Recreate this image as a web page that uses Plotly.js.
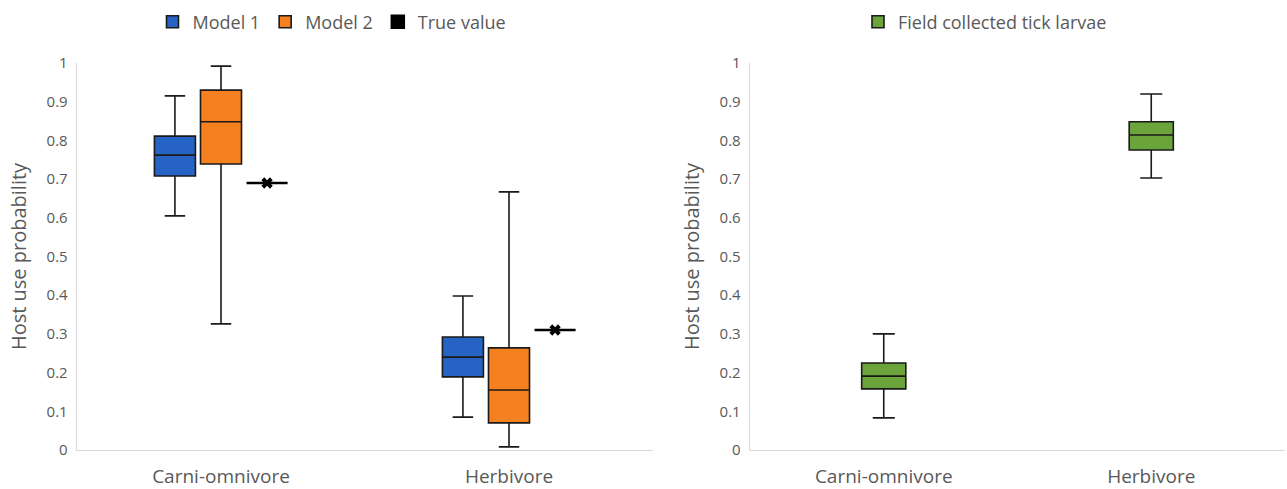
<!DOCTYPE html>
<html>
<head>
<meta charset="utf-8">
<script src="https://cdn.plot.ly/plotly-3.0.1.min.js"></script>
<style>html,body{margin:0;padding:0;background:#fff}#chart{width:1287px;height:489px}</style>
</head>
<body>
<div id="chart"></div>
<script>
// Categories
const categories = ['Carni-omnivore', 'Herbivore'];

// Model 1 (blue)
const m1Upper  = [0.915, 0.398];
const m1Q3     = [0.811, 0.292];
const m1Median = [0.762, 0.240];
const m1Q1     = [0.708, 0.189];
const m1Lower  = [0.605, 0.085];

// Model 2 (orange)
const m2Upper  = [0.992, 0.667];
const m2Q3     = [0.930, 0.264];
const m2Median = [0.848, 0.155];
const m2Q1     = [0.739, 0.070];
const m2Lower  = [0.326, 0.008];

// True value
const trueValue = [0.690, 0.310];

// Field collected tick larvae (green)
const fUpper  = [0.300, 0.920];
const fQ3     = [0.225, 0.848];
const fMedian = [0.191, 0.814];
const fQ1     = [0.158, 0.775];
const fLower  = [0.083, 0.703];

const yTicks = [0, 0.1, 0.2, 0.3, 0.4, 0.5, 0.6, 0.7, 0.8, 0.9, 1];

const fontFam = '"Open Sans", "Segoe UI", sans-serif';
const gray = '#595959';

function boxTrace(name, color, q1, med, q3, lo, hi, xa, ya, legend, ag, og) {
  return {
    type: 'box', name: name, x: categories,
    q1: q1, median: med, q3: q3, lowerfence: lo, upperfence: hi,
    fillcolor: color, line: {color: '#1a1a1a', width: 1.6},
    whiskerwidth: 0.5, boxpoints: false,
    alignmentgroup: ag, offsetgroup: og,
    xaxis: xa, yaxis: ya, legend: legend, hoverinfo: 'y'
  };
}

const green = boxTrace('Field collected tick larvae', '#6BA43A', fQ1, fMedian, fQ3, fLower, fUpper, 'x2', 'y2', 'legend2', 'R', 'd');
green.width = 0.165;

const traces = [
  boxTrace('Model 1', '#2563C4', m1Q1, m1Median, m1Q3, m1Lower, m1Upper, 'x', 'y', 'legend', 'L', 'a'),
  boxTrace('Model 2', '#F5801F', m2Q1, m2Median, m2Q3, m2Lower, m2Upper, 'x', 'y', 'legend', 'L', 'b'),
  {
    type: 'box', name: 'True value', x: categories, y: trueValue,
    fillcolor: '#000000', line: {color: '#000000', width: 2.5},
    whiskerwidth: 0.5, boxpoints: 'all', pointpos: 0, jitter: 0,
    marker: {symbol: 'x', size: 10, color: '#000000'},
    alignmentgroup: 'L', offsetgroup: 'c',
    xaxis: 'x', yaxis: 'y', legend: 'legend', hoverinfo: 'y'
  },
  green
];

const yDomain = [39/489, 426/489];
function yAxis(anchor) {
  return {
    domain: yDomain, range: [0, 1], anchor: anchor,
    tickvals: yTicks, ticktext: yTicks.map(String),
    showgrid: false, zeroline: false,
    showline: true, linecolor: '#d9d9d9', linewidth: 1.3,
    ticks: '', ticklen: 0, ticklabelstandoff: 5,
    tickfont: {family: fontFam, size: 15, color: gray},
    title: {text: 'Host use probability', font: {family: fontFam, size: 20, color: gray}, standoff: 14},
    fixedrange: true
  };
}
function xAxis(domain, anchor) {
  return {
    domain: domain, anchor: anchor, type: 'category',
    range: [-0.5, categories.length - 0.5],
    showgrid: false, zeroline: false,
    showline: true, linecolor: '#d9d9d9', linewidth: 1.3,
    ticks: '', ticklabelstandoff: 9,
    tickfont: {family: fontFam, size: 19, color: gray},
    fixedrange: true
  };
}

const layout = {
  width: 1287, height: 489,
  margin: {l: 0, r: 0, t: 0, b: 0},
  paper_bgcolor: '#ffffff', plot_bgcolor: '#ffffff',
  boxmode: 'group', boxgap: 0.52, boxgroupgap: 0.11,
  xaxis: xAxis([77/1287, 653/1287], 'y'),
  yaxis: yAxis('x'),
  xaxis2: xAxis([750/1287, 1285/1287], 'y2'),
  yaxis2: yAxis('x2'),
  legend: {
    orientation: 'h', x: 332/1287, xanchor: 'center', y: 1 - 22/489, yanchor: 'middle',
    font: {family: fontFam, size: 18, color: gray}, itemwidth: 30, tracegroupgap: 0,
    bgcolor: 'rgba(0,0,0,0)'
  },
  legend2: {
    orientation: 'h', x: 985/1287, xanchor: 'center', y: 1 - 22/489, yanchor: 'middle',
    font: {family: fontFam, size: 18, color: gray}, itemwidth: 30,
    bgcolor: 'rgba(0,0,0,0)'
  },
  showlegend: true
};

Plotly.newPlot('chart', traces, layout, {displayModeBar: false, staticPlot: true});
</script>
</body>
</html>
